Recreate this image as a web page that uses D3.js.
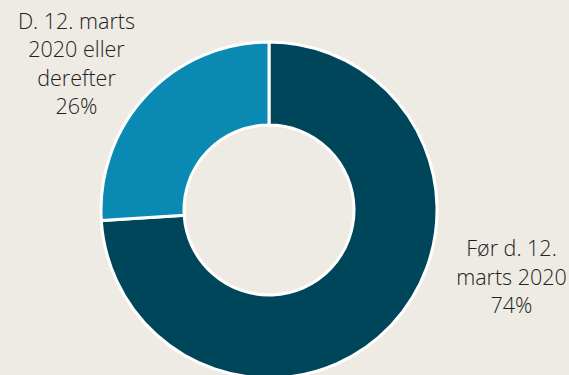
<!DOCTYPE html>
<html>
<head>
<meta charset="utf-8">
<script src="https://cdn.jsdelivr.net/npm/d3@7"></script>
<style>
  html, body { margin: 0; padding: 0; background: #eeebe5; }
  svg { display: block; }
  text { font-family: "Open Sans", sans-serif; font-weight: 300; fill: #222; }
</style>
</head>
<body>
<svg id="chart" width="569" height="375"></svg>
<script>
// Share of cases by date
const categories = ["Før d. 12. marts 2020", "D. 12. marts 2020 eller derefter"];
const shares = [74, 26];
const colors = ["#00465a", "#0a8ab2"];
const labelLines = [["Før d. 12.", "marts 2020", "74%"], ["D. 12. marts", "2020 eller", "derefter", "26%"]];

const W = 569, H = 375;
const cx = 269, cy = 210, outerR = 168, innerR = 85;

const svg = d3.select("#chart");
const g = svg.append("g").attr("transform", `translate(${cx},${cy})`);

const pie = d3.pie().sort(null).value(d => d);
const arc = d3.arc().innerRadius(innerR).outerRadius(outerR);

const arcs = pie(shares);

g.selectAll("path.slice")
  .data(arcs)
  .join("path")
  .attr("class", "slice")
  .attr("d", arc)
  .attr("fill", (d, i) => colors[i])
  .attr("stroke", "#ffffff")
  .attr("stroke-width", 3)
  .attr("stroke-linejoin", "miter");

// Labels placed outside the ring, near each slice
const labelPos = [
  { x: 511.5, y: 248.5 },
  { x: 76.5, y: 21 }
];
const lineH = 28.6;

labelLines.forEach((lines, i) => {
  const t = svg.append("text")
    .attr("text-anchor", "middle")
    .attr("font-size", 21.5);
  lines.forEach((ln, j) => {
    t.append("tspan")
      .attr("x", labelPos[i].x)
      .attr("y", labelPos[i].y + j * lineH)
      .attr("dy", "0.357em")
      .text(ln);
  });
});
</script>
</body>
</html>
